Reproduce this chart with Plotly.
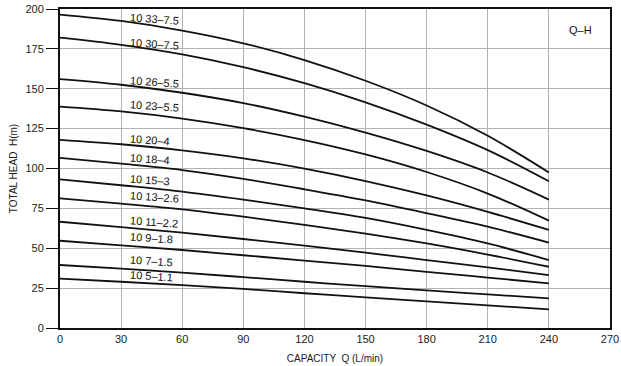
import plotly.graph_objects as go

Q = [0, 30, 60, 90, 120, 150, 180, 210, 240]

labels = ["10 33–7.5", "10 30–7.5", "10 26–5.5", "10 23–5.5", "10 20–4", "10 18–4",
          "10 15–3", "10 13–2.6", "10 11–2.2", "10 9–1.8", "10 7–1.5", "10 5–1.1"]

h_33 = [196.5, 192.5, 186.5, 178.5, 168, 155, 139.5, 120.5, 97.5]
h_30 = [182, 177.5, 171.5, 163.5, 153.5, 141.5, 127.5, 111.5, 92]
h_26 = [156, 152.5, 147.5, 141, 132.5, 122.5, 111, 97.5, 80.5]
h_23 = [138.8, 135.8, 131.3, 125.3, 117.8, 108.8, 97.8, 84.3, 67.3]
h_20 = [118, 115.2, 111.4, 106.4, 99.9, 92.1, 83.1, 72.8, 61.5]
h_18 = [106.6, 103, 99, 93.5, 87, 80, 72, 63.5, 53.5]
h_15 = [93.2, 89.5, 85.5, 80.5, 75, 69, 61.5, 53, 42.6]
h_13 = [81.3, 78, 74.4, 69.8, 64.7, 59.2, 53, 46, 38.4]
h_11 = [66.6, 63.3, 59.8, 55.8, 51.6, 47.2, 42.6, 38, 33.2]
h_9 = [54.7, 51.8, 48.9, 45.6, 42.3, 38.9, 35.2, 31.6, 28]
h_7 = [39.5, 37.2, 34.7, 31.9, 29, 26.2, 23.6, 21.1, 18.6]
h_5 = [30.9, 29, 26.9, 24.5, 21.8, 19.2, 16.7, 14.2, 11.7]

series = [h_33, h_30, h_26, h_23, h_20, h_18, h_15, h_13, h_11, h_9, h_7, h_5]

label_q = 33
label_h = [193.8, 178.2, 154.3, 139.3, 118, 106.2, 92.9, 82.1, 66.4, 56.4, 42.2, 32.5]

x_ticks = [0, 30, 60, 90, 120, 150, 180, 210, 240, 270]
y_ticks = [0, 25, 50, 75, 100, 125, 150, 175, 200]

FONT = "Liberation Sans, Arial, sans-serif"

fig = go.Figure()
for name, h in zip(labels, series):
    fig.add_trace(go.Scatter(x=Q, y=h, mode="lines", name=name,
                             line=dict(color="#111111", width=1.8, shape="spline", smoothing=1.0),
                             showlegend=False, hoverinfo="skip"))

for name, yh in zip(labels, label_h):
    fig.add_annotation(x=label_q, y=yh, text=name, showarrow=False,
                       xanchor="left", yanchor="middle", textangle=4,
                       font=dict(family=FONT, size=11, color="#111111"))

fig.add_annotation(x=255.5, y=187, text="Q–H", showarrow=False,
                   xanchor="center", yanchor="middle",
                   font=dict(family=FONT, size=11, color="#111111"))

fig.update_layout(
    width=621, height=366,
    margin=dict(l=60, r=11, t=9, b=38, autoexpand=False),
    paper_bgcolor="white", plot_bgcolor="white",
    font=dict(family=FONT, size=11, color="#1a1a1a"),
    xaxis=dict(range=[0, 270], tickvals=x_ticks, ticktext=[str(v) for v in x_ticks],
               showgrid=True, gridcolor="#b3b3b3", gridwidth=1.3,
               showline=True, linecolor="#111111", linewidth=2, mirror=True,
               ticks="", zeroline=False, automargin=False,
               title=dict(text="CAPACITY  Q (L/min)", font=dict(size=10, family=FONT),
                          standoff=11)),
    yaxis=dict(range=[0, 200], tickvals=y_ticks, ticktext=[str(v) for v in y_ticks],
               showgrid=True, gridcolor="#b3b3b3", gridwidth=1.3,
               showline=True, linecolor="#111111", linewidth=2, mirror=True,
               ticks="outside", ticklen=12, tickcolor="#111111", tickwidth=1.3,
               zeroline=False, automargin=False,
               title=dict(text="TOTAL HEAD  H(m)", font=dict(size=10, family=FONT),
                          standoff=6)),
)

fig.write_html("out.html", config={"displayModeBar": False},
               post_script="document.body.style.margin='0';document.body.style.padding='0';document.body.style.overflow='hidden';")
